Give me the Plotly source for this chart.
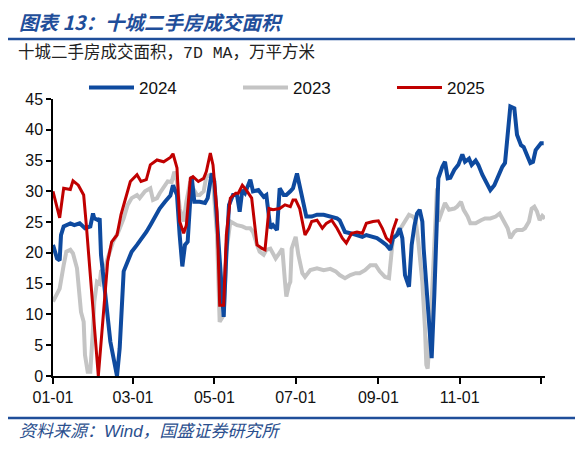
import plotly.graph_objects as go

# day-of-year positions of the month ticks (last one = year end, unlabeled)
tick_days = [0, 60, 121, 182, 244, 305, 366]
tick_labels = ["01-01", "03-01", "05-01", "07-01", "09-01", "11-01", ""]

# 2024 (blue)
day_2024 = [0, 3, 5, 6, 8, 13, 16, 20, 24, 28, 30, 31, 34, 35, 36, 39, 43, 48, 50, 53,
            55, 59, 63, 66, 70, 73, 76, 80, 84, 88, 90, 93, 95, 97, 99, 101, 104, 106, 110, 114,
            116, 119, 121, 124, 127, 128, 130, 132, 135, 138, 140, 142, 144, 148, 150, 154, 158, 160, 163, 165,
            168, 170, 173, 175, 178, 180, 183, 185, 188, 190, 194, 198, 203, 208, 213, 215, 219, 223, 228, 232,
            235, 239, 243, 247, 250, 253, 255, 258, 260, 262, 264, 267, 269, 271, 273, 275, 277, 278, 281, 283,
            284, 286, 288, 289, 292, 294, 296, 298, 301, 304, 307, 309, 312, 314, 317, 319, 322, 324, 328, 331,
            333, 337, 339, 341, 343, 346, 348, 351, 353, 356, 358, 360, 362, 366, 368]
val_2024 = [21.3, 19.1, 18.8, 22.9, 24.3, 24.8, 24.5, 24.8, 24.0, 24.3, 26.4, 25.6, 25.3, 25.6, 19.7, 13.2, 5.6, 0.0, 4.5, 17.0,
            18.0, 20.2, 21.3, 22.1, 23.4, 24.5, 25.6, 27.2, 28.3, 29.3, 31.0, 29.4, 22.9, 17.8, 21.3, 21.8, 32.4, 28.3, 28.3, 28.1,
            28.9, 32.9, 31.6, 21.3, 13.2, 9.6, 19.7, 27.8, 29.4, 29.4, 26.7, 30.2, 29.7, 31.9, 30.0, 30.2, 29.1, 29.4, 24.0, 24.5,
            23.7, 30.5, 29.4, 29.4, 30.0, 30.5, 32.9, 31.0, 27.8, 25.9, 25.9, 26.2, 26.2, 25.9, 25.6, 25.3, 23.4, 23.2, 22.9, 22.6,
            22.9, 22.6, 22.4, 21.8, 21.3, 20.5, 22.4, 22.9, 24.0, 22.4, 16.4, 14.5, 21.3, 24.3, 26.4, 27.0, 25.1, 20.7, 12.1, 5.0,
            2.9, 13.2, 26.7, 32.1, 34.0, 34.8, 32.1, 32.2, 33.5, 34.3, 36.0, 34.8, 35.3, 34.3, 35.0, 34.3, 32.7, 31.8, 30.2, 31.0,
            32.1, 34.0, 34.6, 40.2, 43.8, 43.5, 39.2, 37.5, 37.2, 35.6, 34.6, 34.8, 36.7, 37.8, 37.8]

# 2023 (grey)
day_2023 = [0, 3, 5, 8, 10, 13, 15, 18, 20, 21, 23, 24, 26, 28, 30, 31, 33, 35, 36, 39,
            41, 45, 49, 53, 56, 59, 63, 65, 69, 73, 75, 78, 80, 84, 86, 89, 91, 93, 95, 98,
            100, 103, 105, 108, 110, 113, 115, 118, 120, 123, 125, 128, 130, 133, 135, 138, 142, 145, 148, 150,
            153, 155, 158, 160, 163, 167, 169, 172, 174, 175, 177, 178, 179, 180, 182, 184, 187, 189, 193, 198,
            203, 208, 212, 215, 219, 223, 227, 230, 234, 238, 242, 245, 249, 252, 253, 255, 259, 263, 267, 270,
            272, 274, 277, 279, 280, 281, 283, 286, 288, 289, 292, 294, 297, 301, 303, 306, 308, 311, 313, 317,
            321, 324, 328, 332, 335, 338, 341, 343, 346, 348, 352, 354, 357, 359, 361, 363, 365, 367, 369]
val_2023 = [12.1, 13.2, 14.2, 18.0, 20.2, 20.5, 19.9, 17.5, 13.2, 10.4, 8.8, 3.4, 0.7, 0.7, 7.7, 12.1, 15.3, 15.0, 17.0, 17.5,
            19.1, 21.8, 23.4, 25.6, 27.8, 28.9, 29.4, 28.9, 30.0, 30.5, 28.6, 28.9, 29.7, 31.0, 31.6, 31.5, 33.2, 31.6, 27.2, 25.1,
            28.3, 31.6, 30.5, 29.4, 29.4, 30.0, 32.4, 32.7, 31.6, 22.9, 8.8, 9.9, 20.2, 25.1, 24.8, 24.5, 24.3, 24.0, 24.0, 23.4,
            21.3, 20.2, 19.7, 20.5, 20.7, 19.1, 19.7, 20.7, 15.3, 12.9, 14.8, 15.3, 20.7, 21.3, 22.6, 19.7, 16.7, 16.1, 17.2, 17.5,
            17.2, 17.4, 17.0, 16.4, 15.9, 16.4, 16.7, 16.7, 17.2, 18.0, 18.0, 17.0, 16.1, 15.9, 18.6, 22.4, 23.4, 24.8, 26.2, 25.9,
            25.3, 21.8, 15.3, 7.7, 1.8, 1.2, 7.7, 21.3, 30.5, 25.1, 27.2, 28.1, 27.0, 27.2, 27.5, 28.3, 27.0, 25.9, 24.8, 24.8,
            25.3, 25.6, 25.6, 25.9, 26.4, 25.1, 24.0, 22.4, 23.4, 23.7, 23.7, 24.0, 25.1, 27.2, 27.5, 26.7, 25.3, 26.0, 25.6]

# 2025 (red)
day_2025 = [0, 5, 8, 13, 15, 19, 23, 25, 34, 41, 44, 48, 51, 58, 63, 66, 70, 73, 78, 83,
            88, 90, 93, 95, 98, 100, 103, 105, 109, 113, 115, 118, 120, 123, 125, 128, 130, 133, 137, 139,
            142, 145, 149, 153, 157, 159, 162, 165, 170, 174, 178, 180, 182, 185, 189, 192, 194, 198, 202, 205,
            209, 213, 217, 220, 224, 228, 232, 235, 240, 244, 247, 250, 253, 255, 258]
val_2025 = [30.0, 25.7, 30.5, 30.3, 31.7, 31.0, 29.4, 24.5, 0.0, 18.6, 21.8, 22.9, 26.2, 31.6, 32.7, 31.6, 31.9, 34.3, 35.1, 34.8,
            35.5, 36.1, 33.8, 25.1, 23.2, 24.5, 32.1, 32.4, 31.6, 32.1, 33.2, 36.2, 34.3, 26.7, 11.5, 11.5, 22.9, 28.9, 29.7, 29.7,
            31.0, 30.2, 28.9, 21.3, 20.7, 20.5, 27.2, 27.0, 27.2, 27.8, 27.5, 28.6, 28.6, 27.2, 22.9, 24.0, 25.1, 25.3, 24.0, 24.8,
            25.3, 24.0, 22.4, 21.6, 23.2, 23.4, 23.2, 24.8, 25.1, 25.2, 24.0, 22.4, 21.8, 23.7, 25.6]

blue = "#0E4A9F"
grey = "#C4C4C4"
red = "#C00000"
title_blue = "#1F4E9A"

fig = go.Figure()
fig.add_trace(go.Scatter(x=day_2023, y=val_2023, name="2023", mode="lines", legendrank=2,
                         line=dict(color=grey, width=4)))
fig.add_trace(go.Scatter(x=day_2024, y=val_2024, name="2024", mode="lines", legendrank=1,
                         line=dict(color=blue, width=4)))
fig.add_trace(go.Scatter(x=day_2025, y=val_2025, name="2025", mode="lines", legendrank=3,
                         line=dict(color=red, width=3)))

# page body adds an 8px offset, so the figure is a bit smaller than the window
fig.update_layout(
    width=575, height=445,
    margin=dict(l=45, r=38, t=91, b=77),
    paper_bgcolor="white", plot_bgcolor="white",
    font=dict(family="Liberation Sans, Arial", size=16, color="#111111"),
    showlegend=True,
    legend=dict(orientation="h", x=0.063, y=1.04, xanchor="left", yanchor="middle",
                font=dict(size=17), entrywidth=94, entrywidthmode="pixels",
                bgcolor="rgba(0,0,0,0)", itemwidth=45),
)
fig.update_xaxes(range=[0, 369], tickmode="array", tickvals=tick_days, ticktext=tick_labels,
                 showgrid=False, zeroline=False, showline=True, linecolor="black", linewidth=1.5,
                 ticks="outside", ticklen=6, tickwidth=1.5, tickcolor="black")
fig.update_yaxes(range=[0, 45], dtick=5, showgrid=False, zeroline=False, showline=True,
                 linecolor="black", linewidth=1.5, ticks="outside", ticklen=5, tickwidth=1.5,
                 tickcolor="black")

# header / footer
fig.add_annotation(xref="paper", yref="paper", x=-0.074, y=1.28, xanchor="left", yanchor="middle",
                   text="<b><i>图表 13：十城二手房成交面积</i></b>", showarrow=False,
                   font=dict(family="Noto Sans CJK SC", size=19.5, color=title_blue))
fig.add_shape(type="line", xref="paper", yref="paper", x0=-0.1, x1=1.07, y0=1.217, y1=1.217,
              line=dict(color=title_blue, width=2.5))
fig.add_annotation(xref="paper", yref="paper", x=-0.076, y=1.166, xanchor="left", yanchor="middle",
                   text="十城二手房成交面积，7D MA，万平方米", showarrow=False,
                   font=dict(family="Liberation Mono, Noto Sans CJK SC", size=16.5, color="#222222"))
fig.add_shape(type="line", xref="paper", yref="paper", x0=-0.1, x1=1.07, y0=-0.152, y1=-0.152,
              line=dict(color=title_blue, width=2.5))
fig.add_annotation(xref="paper", yref="paper", x=-0.074, y=-0.2, xanchor="left", yanchor="middle",
                   text="<i>资料来源：Wind，国盛证券研究所</i>", showarrow=False,
                   font=dict(family="Liberation Sans, Noto Sans CJK SC", size=17, color="#2B4F8E"))

fig.write_html("out.html")
